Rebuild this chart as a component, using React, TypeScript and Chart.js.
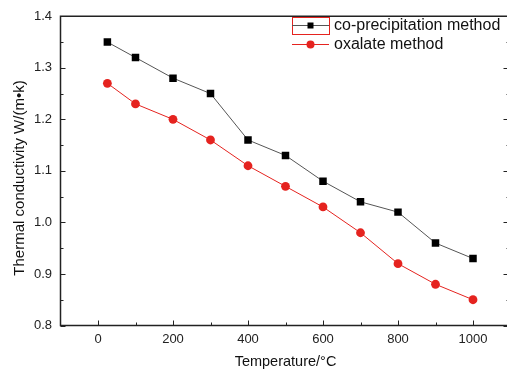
import React, { useEffect, useRef } from "react";
import { Chart, registerables } from "chart.js";

Chart.register(...registerables);

// ---------- data ----------
const temperatures = [25, 100, 200, 300, 400, 500, 600, 700, 800, 900, 1000];
const coPrecipitation = [1.35, 1.32, 1.28, 1.25, 1.16, 1.13, 1.08, 1.04, 1.02, 0.96, 0.93];
const oxalate = [1.27, 1.23, 1.2, 1.16, 1.11, 1.07, 1.03, 0.98, 0.92, 0.88, 0.85];
const seriesLabels = ["co-precipitation method", "oxalate method"];
const xTickValues = [0, 200, 400, 600, 800, 1000];
const xMinorValues = [100, 300, 500, 700, 900];
const yTickValues = [0.8, 0.9, 1.0, 1.1, 1.2, 1.3, 1.4];
const yMinorValues = [0.85, 0.95, 1.05, 1.15, 1.25, 1.35];
const xTitle = "Temperature/°C";
const yTitle = "Thermal conductivity W/(m•k)";

// ---------- layout / style ----------
const W = 520;
const H = 374;
const AREA_LEFT = 60.5;
const AREA_TOP = 13;
const AREA_RIGHT = 510.5;
const AREA_BOTTOM = 325.5;
const FONT = "'Liberation Sans', Arial, sans-serif";
const RED = "#e5231f";
const BLACK = "#000000";
const GRAY_LINE = "#555555";
const AXIS = "#222222";

const decorPlugin = {
  id: "decor",
  afterDraw(chart: any) {
    const ctx = chart.ctx as CanvasRenderingContext2D;
    const { left, right, top, bottom } = chart.chartArea;
    const xs = chart.scales.x;
    const ys = chart.scales.y;
    ctx.save();
    // frame
    ctx.strokeStyle = AXIS;
    ctx.lineWidth = 1.5;
    ctx.beginPath();
    ctx.moveTo(left, top);
    ctx.lineTo(right, top);
    ctx.lineTo(right, bottom);
    ctx.lineTo(left, bottom);
    ctx.closePath();
    ctx.stroke();
    // ticks (inward)
    ctx.lineWidth = 1;
    ctx.beginPath();
    xTickValues.forEach((v) => {
      const px = Math.round(xs.getPixelForValue(v)) + 0.5;
      ctx.moveTo(px, bottom);
      ctx.lineTo(px, bottom - 5);
    });
    xMinorValues.forEach((v) => {
      const px = Math.round(xs.getPixelForValue(v)) + 0.5;
      ctx.moveTo(px, bottom);
      ctx.lineTo(px, bottom - 3);
    });
    yTickValues.forEach((v) => {
      const py = Math.round(ys.getPixelForValue(v)) + 0.5;
      ctx.moveTo(left, py);
      ctx.lineTo(left + 5, py);
      ctx.moveTo(right, py);
      ctx.lineTo(right - 7, py);
    });
    yMinorValues.forEach((v) => {
      const py = Math.round(ys.getPixelForValue(v)) + 0.5;
      ctx.moveTo(left, py);
      ctx.lineTo(left + 3, py);
      ctx.moveTo(right, py);
      ctx.lineTo(right - 4, py);
    });
    ctx.stroke();

    // axis titles
    ctx.fillStyle = "#111111";
    ctx.font = `14.5px ${FONT}`;
    ctx.textAlign = "center";
    ctx.textBaseline = "alphabetic";
    ctx.fillText(xTitle, 285.5, 366);
    ctx.save();
    ctx.translate(24, 178);
    ctx.rotate(-Math.PI / 2);
    ctx.font = `15px ${FONT}`;
    ctx.fillText(yTitle, 0, 0);
    ctx.restore();

    // legend
    const lx0 = 292;
    const lx1 = 329;
    const rows = [25.5, 44.5];
    ctx.strokeStyle = RED;
    ctx.lineWidth = 1;
    ctx.strokeRect(lx0 + 0.5, 17.5, lx1 - lx0, 17);
    // entry 1
    ctx.strokeStyle = GRAY_LINE;
    ctx.beginPath();
    ctx.moveTo(lx0, rows[0]);
    ctx.lineTo(lx1, rows[0]);
    ctx.stroke();
    ctx.fillStyle = BLACK;
    ctx.fillRect((lx0 + lx1) / 2 - 3, rows[0] - 3, 6, 6);
    // entry 2
    ctx.strokeStyle = RED;
    ctx.beginPath();
    ctx.moveTo(lx0, rows[1]);
    ctx.lineTo(lx1, rows[1]);
    ctx.stroke();
    ctx.fillStyle = RED;
    ctx.beginPath();
    ctx.arc((lx0 + lx1) / 2, rows[1], 4, 0, Math.PI * 2);
    ctx.fill();
    ctx.fillStyle = "#111111";
    ctx.font = `16px ${FONT}`;
    ctx.textAlign = "left";
    ctx.textBaseline = "middle";
    ctx.fillText(seriesLabels[0], 334, rows[0] + 0.5);
    ctx.fillText(seriesLabels[1], 334, rows[1] + 0.5);
    ctx.restore();
  },
};

export default function App() {
  const canvasRef = useRef<HTMLCanvasElement | null>(null);

  useEffect(() => {
    const canvas = canvasRef.current;
    if (!canvas) return;
    const chart = new Chart(canvas, {
      type: "line",
      data: {
        datasets: [
          {
            label: seriesLabels[0],
            data: temperatures.map((t, i) => ({ x: t, y: coPrecipitation[i] })),
            borderColor: GRAY_LINE,
            backgroundColor: BLACK,
            borderWidth: 1,
            pointStyle: "rect",
            pointRadius: 5.3,
            pointBorderWidth: 0,
            pointBackgroundColor: BLACK,
            tension: 0,
          },
          {
            label: seriesLabels[1],
            data: temperatures.map((t, i) => ({ x: t, y: oxalate[i] })),
            borderColor: RED,
            backgroundColor: RED,
            borderWidth: 1,
            pointStyle: "circle",
            pointRadius: 4.4,
            pointBorderWidth: 0,
            pointBackgroundColor: RED,
            tension: 0,
          },
        ],
      },
      options: {
        responsive: false,
        animation: false,
        devicePixelRatio: 1,
        layout: { padding: { top: AREA_TOP, right: W - AREA_RIGHT, left: 0, bottom: 0 } },
        plugins: {
          legend: { display: false },
          tooltip: { enabled: false },
        },
        scales: {
          x: {
            type: "linear",
            min: -100,
            max: 1100,
            grid: { display: false, drawTicks: false },
            border: { display: false },
            afterBuildTicks: (scale: any) => {
              scale.ticks = xTickValues.map((v) => ({ value: v }));
            },
            afterFit: (scale: any) => {
              scale.height = H - AREA_BOTTOM;
            },
            ticks: {
              padding: 6,
              color: "#222222",
              font: { family: FONT, size: 13 },
              maxRotation: 0,
              callback: (v: any) => String(v),
            },
          },
          y: {
            type: "linear",
            min: 0.8,
            max: 1.4,
            grid: { display: false, drawTicks: false },
            border: { display: false },
            afterBuildTicks: (scale: any) => {
              scale.ticks = yTickValues.map((v) => ({ value: v }));
            },
            afterFit: (scale: any) => {
              scale.width = AREA_LEFT;
            },
            ticks: {
              padding: 8.5,
              color: "#222222",
              font: { family: FONT, size: 13 },
              callback: (v: any) => Number(v).toFixed(1),
            },
          },
        },
      },
      plugins: [decorPlugin],
    });
    return () => chart.destroy();
  }, []);

  return (
    <div
      style={{
        position: "fixed",
        left: 0,
        top: 0,
        width: 507,
        height: 374,
        overflow: "hidden",
        background: "#ffffff",
      }}
    >
      <canvas ref={canvasRef} width={W} height={H} style={{ display: "block", width: W, height: H }} />
    </div>
  );
}
